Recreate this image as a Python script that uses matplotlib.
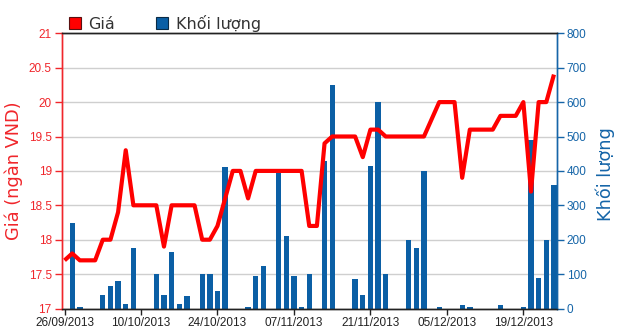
#!/usr/bin/env python3
"""Price (line, left axis) and traded volume (bars, right axis), 26/09 - 25/12/2013."""
import numpy as np
import pandas as pd
import matplotlib

matplotlib.use("Agg")
import matplotlib.pyplot as plt
from matplotlib.patches import Patch

# ── Data ────────────────────────────────────────────────────────────

# one entry per trading session, starting 26/09/2013
dates = pd.bdate_range("2013-09-26", periods=65)

price = [
    17.7, 17.8, 17.7, 17.7, 17.7, 18.0, 18.0, 18.4, 19.3, 18.5,
    18.5, 18.5, 18.5, 17.9, 18.5, 18.5, 18.5, 18.5, 18.0, 18.0,
    18.2, 18.6, 19.0, 19.0, 18.6, 19.0, 19.0, 19.0, 19.0, 19.0,
    19.0, 19.0, 18.2, 18.2, 19.4, 19.5, 19.5, 19.5, 19.5, 19.2,
    19.6, 19.6, 19.5, 19.5, 19.5, 19.5, 19.5, 19.5, 19.75, 20.0,
    20.0, 20.0, 18.9, 19.6, 19.6, 19.6, 19.6, 19.8, 19.8, 19.8,
    20.0, 18.7, 20.0, 20.0, 20.4,
]

volume = [
    0, 250, 5, 0, 0, 40, 65, 80, 12, 175,
    0, 0, 100, 40, 165, 12, 35, 0, 100, 100,
    50, 410, 0, 0, 5, 95, 125, 0, 395, 210,
    95, 5, 100, 0, 430, 650, 0, 0, 85, 40,
    415, 600, 100, 0, 0, 200, 175, 400, 0, 3,
    0, 0, 9, 3, 0, 0, 0, 9, 0, 0,
    3, 490, 90, 200, 360,
]

TICK_EVERY = 10  # two weeks of sessions

RED = "#f0262b"
BLUE = "#1565a8"
BAR = "#0b5fa5"

# ── Plot ────────────────────────────────────────────────────────────

fig = plt.figure(figsize=(6.2, 3.31), dpi=100)
axv = fig.add_axes([61.5 / 620, 1 - 308.5 / 331, 495.5 / 620, 275.2 / 331])
axp = axv.twinx()

x = np.arange(len(dates))

# volume bars underneath (right axis)
axv.bar(x, volume, width=0.7, color=BAR, zorder=2)
axv.set_ylim(0, 800)
axv.set_yticks(range(0, 801, 100))
axv.grid(axis="y", color="#cfcfcf", lw=1, zorder=0)
axv.set_axisbelow(True)

# price line on top (left axis)
axp.plot(x, price, color="#ff0000", lw=3, solid_joinstyle="round",
         solid_capstyle="butt", zorder=3)
axp.set_ylim(17, 21)
axp.set_yticks(np.arange(17, 21.01, 0.5))
axp.set_yticklabels(["17", "17.5", "18", "18.5", "19", "19.5", "20", "20.5", "21"])

# swap sides: price on the left, volume on the right
axp.yaxis.tick_left()
axp.yaxis.set_label_position("left")
axv.yaxis.tick_right()
axv.yaxis.set_label_position("right")

axv.set_xlim(-0.4, 64.4)
ticks = x[::TICK_EVERY]
axv.set_xticks(ticks)
axv.set_xticklabels([dates[i].strftime("%d/%m/%Y") for i in ticks])

tick_font = {"family": "Liberation Sans", "size": 8.5}
for lab in axv.get_xticklabels():
    lab.set_fontproperties(tick_font)
    lab.set_color("#222222")
for lab in axp.get_yticklabels():
    lab.set_fontproperties(tick_font)
for lab in axv.get_yticklabels():
    lab.set_fontproperties(tick_font)

axv.tick_params(axis="x", length=4, width=1, color="#222222", pad=2)
axp.tick_params(axis="y", length=5, width=1, color=RED, labelcolor=RED, pad=2)
axv.tick_params(axis="y", length=5, width=1, color=BLUE, labelcolor=BLUE, pad=2)

for ax in (axv, axp):
    ax.spines["top"].set_color("#222222")
    ax.spines["bottom"].set_color("#222222")
    ax.spines["left"].set_color(RED)
    ax.spines["right"].set_color(BLUE)
    for s in ax.spines.values():
        s.set_linewidth(1)

axp.set_ylabel("Giá (ngàn VND)", color=RED, fontsize=12.8, family="DejaVu Sans")
axp.yaxis.set_label_coords(-0.078, 0.5)
axv.set_ylabel("Khối lượng", color=BLUE, fontsize=12.8, family="DejaVu Sans")
axv.yaxis.set_label_coords(1.077, 0.49)

handles = [
    Patch(facecolor="#ff0000", edgecolor="#5a1010", lw=0.8, label="Giá"),
    Patch(facecolor=BAR, edgecolor="#0a2a45", lw=0.8, label="Khối lượng"),
]
fig.legend(handles=handles, loc="center left", bbox_to_anchor=(69 / 620, 0.93),
           ncol=2, frameon=False, prop={"family": "DejaVu Sans", "size": 11.5},
           labelcolor="#333333", handlelength=0.75, handleheight=0.75,
           handletextpad=0.45, columnspacing=2.6, borderpad=0, borderaxespad=0)

fig.savefig("out.png", dpi=100)
